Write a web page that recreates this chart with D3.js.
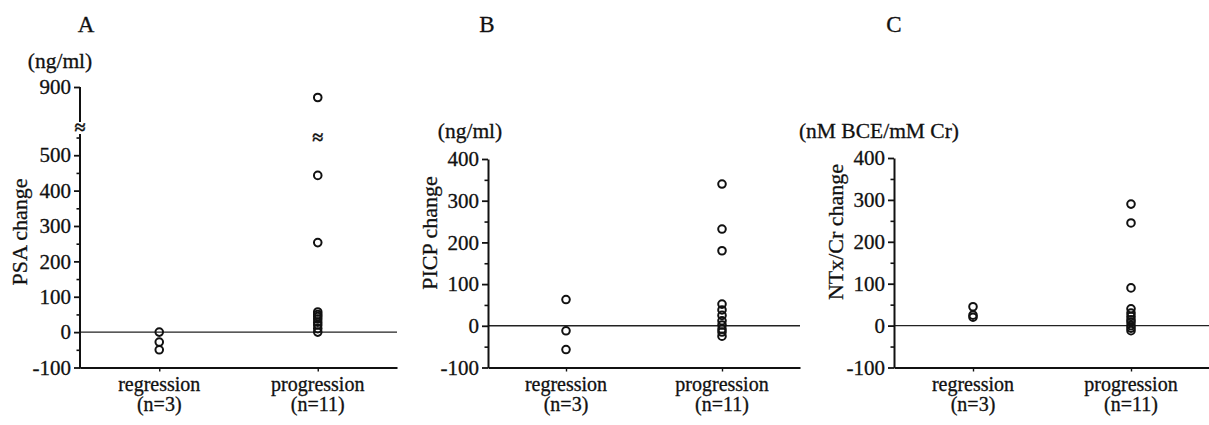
<!DOCTYPE html>
<html>
<head>
<meta charset="utf-8">
<script src="https://cdn.jsdelivr.net/npm/d3@7/dist/d3.min.js"></script>
<style>
  html, body { margin: 0; padding: 0; background: #ffffff; }
  svg { display: block; }
  svg text { font-family: 'Liberation Serif', Tinos, 'DejaVu Serif', 'Noto Serif', serif; fill: #111; stroke: #111; stroke-width: 0.3px; }
</style>
</head>
<body>
<svg id="chart" width="1209" height="425"></svg>
<script>
// ---------- data ----------
const categories = ["regression", "progression"];
const groupSizes = ["(n=3)", "(n=11)"];
const panelLetters = ["A", "B", "C"];
const unitLabels = ["(ng/ml)", "(ng/ml)", "(nM BCE/mM Cr)"];
const yTitles = ["PSA change", "PICP change", "NTx/Cr change"];

const psaRegression = [0, -28, -50];
const psaProgression = [870, 443, 253, 57, 50, 44, 37, 28, 20, 10, 0];
const picpRegression = [63, -12, -57];
const picpProgression = [340, 232, 180, 52, 38, 25, 12, 2, -8, -15, -25];
const ntxRegression = [45, 25, 20];
const ntxProgression = [290, 245, 90, 40, 30, 22, 14, 8, 0, -6, -12];

const psaTicks = [-100, 0, 100, 200, 300, 400, 500, 900];
const psaMinorTicks = [-50, 50, 150, 250, 350, 450, 550];
const bcTicks = [-100, 0, 100, 200, 300, 400];
const bcMinorTicks = [-50, 50, 150, 250, 350];

// ---------- layout ----------
const FONT = "'Liberation Serif', Tinos, 'DejaVu Serif', serif";
const svg = d3.select("#chart").attr("font-family", FONT);

const panels = [
  {
    letter: panelLetters[0], unit: unitLabels[0], title: yTitles[0],
    series: [psaRegression, psaProgression],
    ticks: psaTicks, minor: psaMinorTicks,
    x0: 80, x1: 397,
    y: d3.scaleLinear().domain([-100, 560, 800, 900]).range([367.5, 134, 122, 87]),
    broken: true,
    letterPos: [86, 32], unitPos: [60, 68], titlePos: [27, 232]
  },
  {
    letter: panelLetters[1], unit: unitLabels[1], title: yTitles[1],
    series: [picpRegression, picpProgression],
    ticks: bcTicks, minor: bcMinorTicks,
    x0: 488, x1: 800,
    y: d3.scaleLinear().domain([-100, 400]).range([367.5, 159]),
    broken: false,
    letterPos: [487, 32], unitPos: [470, 138], titlePos: [437, 233]
  },
  {
    letter: panelLetters[2], unit: unitLabels[2], title: yTitles[2],
    series: [ntxRegression, ntxProgression],
    ticks: bcTicks, minor: bcMinorTicks,
    x0: 894, x1: 1210,
    y: d3.scaleLinear().domain([-100, 400]).range([367.5, 158]),
    broken: false,
    letterPos: [894, 32], unitPos: [879, 138], titlePos: [843, 232]
  }
];

panels.forEach(p => {
  const g = svg.append("g");
  const y = p.y;
  const x = d3.scalePoint().domain(categories).range([p.x0, p.x1]).padding(0.5);

  g.append("text").attr("x", p.letterPos[0]).attr("y", p.letterPos[1])
    .attr("text-anchor", "middle").attr("font-size", 23).text(p.letter);

  g.append("text").attr("x", p.unitPos[0]).attr("y", p.unitPos[1])
    .attr("text-anchor", "middle").attr("font-size", 21.5).text(p.unit);

  g.append("text")
    .attr("transform", `translate(${p.titlePos[0]},${p.titlePos[1]}) rotate(-90)`)
    .attr("text-anchor", "middle").attr("font-size", 22).text(p.title);

  // zero reference line
  g.append("line")
    .attr("x1", p.x0).attr("x2", p.x1)
    .attr("y1", y(0)).attr("y2", y(0))
    .attr("stroke", "#222").attr("stroke-width", 1.4);

  // minor ticks
  const minorAxis = g.append("g").attr("transform", `translate(${p.x0},0)`)
    .call(d3.axisLeft(y).tickValues(p.minor).tickSize(3.5).tickSizeOuter(0).tickFormat(""));
  minorAxis.select(".domain").remove();
  minorAxis.selectAll("line").attr("stroke", "#111").attr("stroke-width", 1.6);

  // major ticks
  const yAxis = g.append("g").attr("transform", `translate(${p.x0},0)`)
    .call(d3.axisLeft(y).tickValues(p.ticks).tickSize(6).tickSizeOuter(0).tickPadding(3)
      .tickFormat(d => String(d)));
  yAxis.attr("font-family", FONT).attr("font-size", 21);
  yAxis.selectAll("line").attr("stroke", "#111").attr("stroke-width", 1.8);
  yAxis.selectAll("text").attr("font-size", 21).attr("fill", "#111");
  if (p.broken) {
    yAxis.select(".domain").remove();
    g.append("line").attr("x1", p.x0).attr("x2", p.x0)
      .attr("y1", y(-100) + 1).attr("y2", y(560))
      .attr("stroke", "#111").attr("stroke-width", 2);
    g.append("line").attr("x1", p.x0).attr("x2", p.x0)
      .attr("y1", y(800)).attr("y2", y(900))
      .attr("stroke", "#111").attr("stroke-width", 2);
    g.append("text").attr("x", p.x0).attr("y", (y(560) + y(800)) / 2 + 6)
      .attr("text-anchor", "middle").attr("font-size", 20).attr("font-weight", "bold")
      .text("≈");
    g.append("text").attr("x", x(categories[1])).attr("y", (y(560) + y(800)) / 2 + 16)
      .attr("text-anchor", "middle").attr("font-size", 20).attr("font-weight", "bold")
      .text("≈");
  } else {
    yAxis.select(".domain").attr("stroke", "#111").attr("stroke-width", 2);
  }

  // x axis
  const xAxis = g.append("g").attr("transform", `translate(0,${y(-100)})`)
    .call(d3.axisBottom(x).tickSize(4).tickSizeOuter(0).tickFormat(""));
  xAxis.select(".domain").attr("stroke", "#111").attr("stroke-width", 2);
  xAxis.selectAll("line").attr("stroke", "#111").attr("stroke-width", 1.4);

  // x labels
  categories.forEach((c, i) => {
    g.append("text").attr("x", x(c)).attr("y", 391)
      .attr("text-anchor", "middle").attr("font-size", 20).text(c);
    g.append("text").attr("x", x(c)).attr("y", 411)
      .attr("text-anchor", "middle").attr("font-size", 20).text(groupSizes[i]);
  });

  // points
  p.series.forEach((vals, i) => {
    g.selectAll(null).data(vals).enter().append("circle")
      .attr("cx", x(categories[i]))
      .attr("cy", d => y(d))
      .attr("r", 3.8)
      .attr("fill", "none")
      .attr("stroke", "#111")
      .attr("stroke-width", 2);
  });
});
</script>
</body>
</html>
